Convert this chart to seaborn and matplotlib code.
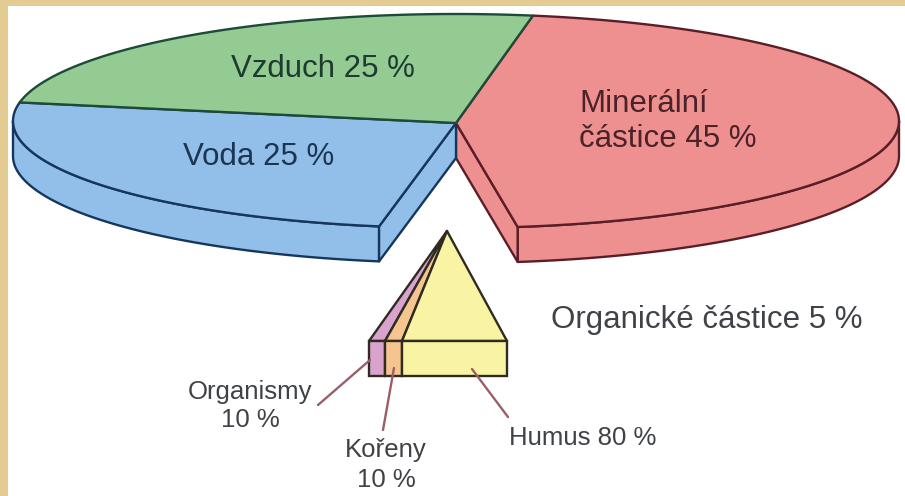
import numpy as np
import matplotlib
matplotlib.use("Agg")
import matplotlib.pyplot as plt
from matplotlib.patches import Polygon, Rectangle
import seaborn as sns

# --- data ---
pie_names = ["Minerální částice", "Organické částice", "Voda", "Vzduch"]
pie_shares = [45, 5, 25, 25]          # clockwise from the green/red boundary
pie_fill = ["#EE9090", None, "#92BFEA", "#94CB92"]
pie_edge = ["#5A1E28", None, "#16365C", "#1E4A38"]
organic_names = ["Organismy", "Kořeny", "Humus"]
organic_labels = [10, 10, 80]
organic_drawn = [11.6, 12.3, 76.1]    # drawn widths
organic_fill = ["#D9A3CE", "#F6C48E", "#F9F4A4"]

# --- layout (pixels of the reference) ---
W, H = 905, 496
CX, CY, VY, A, B, D = 456, 121, 123, 443, 107, 35
START = 80

sns.set_theme(style="white", rc={"font.family": ["Liberation Sans", "DejaVu Sans"]})
fig = plt.figure(figsize=(W / 100, H / 100), dpi=100, facecolor="#E4CB92")
ax = fig.add_axes([0, 0, 1, 1])
ax.set_xlim(0, W)
ax.set_ylim(H, 0)
ax.axis("off")
ax.add_patch(Rectangle((8, 6), W - 8, H - 6, fc="white", ec="none", zorder=0))


def pt(t, dz=0):
    r = np.radians(t)
    return CX + A * np.cos(r), CY - B * np.sin(r) + dz


def arc(t0, t1, dz=0, n=120):
    ts = np.linspace(t0, t1, n)
    return np.column_stack(pt(ts, dz))


# slice boundaries from the shares
angle = START
bounds = []
for s in pie_shares:
    bounds.append((angle, angle - s * 3.6))
    angle -= s * 3.6
lw = 1.7

# walls and cut faces next to the gap left by the organic slice
red_end = bounds[0][1] % 360
blue_start = bounds[2][0] % 360
for wall, cut, fc, ec in [((red_end, 360), red_end, pie_fill[0], pie_edge[0]),
                          ((180, blue_start), blue_start, pie_fill[2], pie_edge[2])]:
    top, bot = arc(*wall), arc(*wall, dz=D)
    ax.add_patch(Polygon(np.vstack([top, bot[::-1]]), fc=fc, ec=ec, lw=lw, zorder=2, joinstyle="round"))
    p = pt(cut)
    face = [(CX, VY), p, (p[0], p[1] + D), (CX, VY + D)]
    ax.add_patch(Polygon(face, fc=fc, ec=ec, lw=lw, zorder=2, joinstyle="round"))

# top faces
for (t0, t1), fc, ec in zip(bounds, pie_fill, pie_edge):
    if fc is None:
        continue
    verts = np.vstack([[(CX, VY)], arc(t0, t1)])
    ax.add_patch(Polygon(verts, fc=fc, ec=ec, lw=lw, zorder=3, joinstyle="round"))

# pyramid
PX0, PX1, PY0, PY1, AX, AY = 369, 507, 341, 376, 447, 231
edge = np.cumsum([0] + organic_drawn) / sum(organic_drawn) * (PX1 - PX0) + PX0
pyr_ec = "#2E2C22"
for i, fc in enumerate(organic_fill):
    ax.add_patch(Polygon([(AX, AY), (edge[i], PY0), (edge[i + 1], PY0)], fc=fc, ec=pyr_ec, lw=lw, zorder=4, joinstyle="round"))
    ax.add_patch(Rectangle((edge[i], PY0), edge[i + 1] - edge[i], PY1 - PY0, fc=fc, ec=pyr_ec, lw=lw, zorder=4))

# leader lines
leader_c = "#9A5F68"
for (x0, y0), (x1, y1) in [((318, 405), (370, 360)), ((383, 430), (394, 368)), ((472, 369), (508, 417))]:
    ax.plot([x0, x1], [y0, y1], color=leader_c, lw=1.7, solid_capstyle="round", zorder=5)

# text
tc = "#3F4246"
big = 22.5
small = 18.5


def label(x, y, s, size, ha="left", color=tc):
    return ax.text(x, y, s, fontsize=size, ha=ha, va="center", color=color, zorder=6)


label(231, 69, f"Vzduch {pie_shares[3]} %", big, color="#1F3A30")
label(183, 157, f"Voda {pie_shares[2]} %", big, color="#1C3550")
label(579, 104, "Minerální", big, color="#4A2228")
label(579, 139, f"částice {pie_shares[0]} %", big, color="#4A2228")
label(551, 320, f"Organické částice {pie_shares[1]} %", big)
label(250, 392, organic_names[0], small, ha="center")
label(250, 420, f"{organic_labels[0]} %", small, ha="center")
label(386, 450, organic_names[1], small, ha="center")
t = label(386, 480, f"{organic_labels[1]} %", small, ha="center")
t.set_clip_path(Rectangle((0, 0), W, 488, transform=ax.transData))
t.set_clip_on(True)
label(509, 438, f"{organic_names[2]} {organic_labels[2]} %", small)

fig.savefig("out.png", dpi=100, facecolor=fig.get_facecolor())
